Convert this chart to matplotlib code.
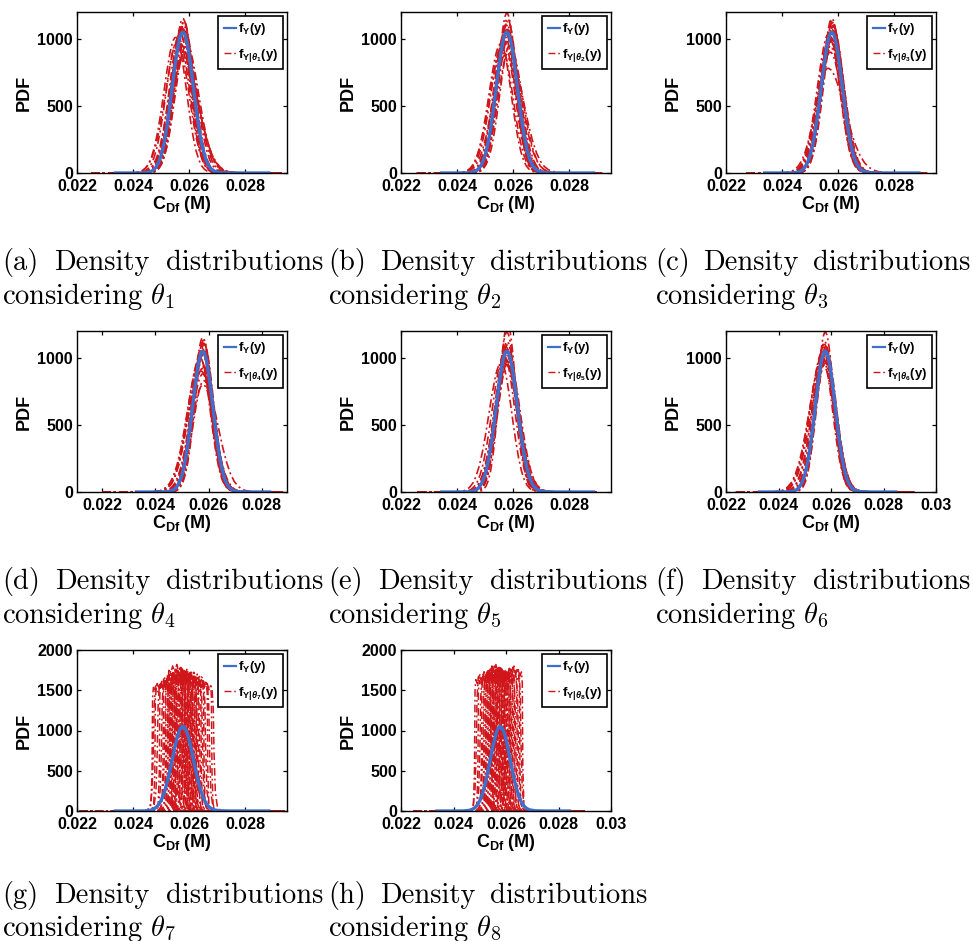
import numpy as np
import matplotlib
matplotlib.use("Agg")
import matplotlib.pyplot as plt
from matplotlib.lines import Line2D

# unconditional density f_Y(y)
fy_x = [0.0240, 0.0244, 0.0246, 0.0247, 0.0248, 0.0249, 0.0250, 0.0251, 0.0252,
        0.0253, 0.0254, 0.0255, 0.0256, 0.02565, 0.0257, 0.02575, 0.0258, 0.02585,
        0.0259, 0.02595, 0.0260, 0.0261, 0.0262, 0.0263, 0.0264, 0.0265, 0.0266,
        0.0267, 0.0268, 0.0269, 0.0271, 0.0275]
fy_pdf = [0, 1, 8, 18, 38, 72, 128, 212, 328,
          473, 637, 800, 938, 990, 1027, 1047, 1048, 1032,
          999, 950, 888, 737, 570, 412, 278, 174, 102,
          56, 29, 14, 3, 0]

# conditional densities for theta_1..theta_6: (shift, peak, left width, right width)
theta1_curves = [(0.0, 1150, 0.9, 0.9), (0.00002, 1100, 0.95, 0.95), (-0.00003, 1080, 1.0, 0.95),
                 (0.00004, 1060, 0.95, 1.0), (-0.00025, 1010, 1.1, 1.0), (-0.0002, 980, 1.05, 1.1),
                 (0.00005, 900, 1.05, 1.3), (0.0, 850, 1.1, 1.45), (0.0001, 940, 1.0, 1.15),
                 (-0.0001, 1040, 1.0, 1.0), (0.00003, 1120, 0.9, 0.95), (-0.00015, 1000, 1.2, 1.05),
                 (0.00008, 1000, 0.95, 1.25), (-0.00005, 1090, 0.95, 0.9), (0.00002, 870, 1.2, 1.4),
                 (0.00001, 1070, 1.0, 1.0), (-0.00002, 1030, 1.05, 1.0), (0.00004, 1130, 0.9, 0.9),
                 (-0.00007, 960, 1.1, 1.1), (0.00006, 1010, 1.0, 1.1)]
theta2_curves = [(0.0, 1190, 0.85, 0.85), (0.00003, 1130, 0.9, 0.95), (-0.00002, 1100, 0.95, 0.9),
                 (-0.00022, 960, 1.1, 1.0), (-0.00018, 930, 1.15, 1.05), (0.00004, 1060, 1.0, 1.0),
                 (0.00006, 900, 1.0, 1.4), (0.0, 980, 1.05, 1.3), (-0.00008, 1020, 1.0, 1.0),
                 (0.00002, 1150, 0.9, 0.9), (0.0001, 950, 0.95, 1.2), (-0.00012, 990, 1.15, 1.05),
                 (0.00001, 1070, 0.95, 1.05), (-0.00004, 880, 1.2, 1.2), (0.00002, 1040, 1.0, 1.0),
                 (-0.00001, 1110, 0.95, 0.95), (0.00005, 1000, 1.0, 1.1), (-0.00006, 1050, 1.05, 1.0)]
theta3_curves = [(0.0, 1150, 0.9, 0.9), (0.00002, 1120, 0.9, 0.95), (-0.00013, 780, 1.2, 1.6),
                 (0.00004, 1100, 0.95, 0.95), (-0.00003, 1080, 1.0, 1.0), (-0.00008, 1000, 1.1, 1.0),
                 (0.00003, 1030, 1.0, 1.1), (0.0, 960, 1.05, 1.1), (-0.00005, 900, 1.15, 1.1),
                 (0.00006, 1060, 0.95, 1.0), (-0.0001, 1040, 1.1, 1.0), (0.00001, 1130, 0.9, 0.9),
                 (0.00002, 990, 1.05, 1.05), (-0.00002, 930, 1.1, 1.15), (0.00001, 1070, 1.0, 1.0),
                 (-0.00004, 1010, 1.1, 1.05), (0.00005, 1090, 0.95, 1.0), (0.0, 1040, 1.15, 1.05)]
theta4_curves = [(0.0, 1150, 0.9, 0.9), (0.00002, 1110, 0.9, 0.95), (-0.00004, 1080, 1.0, 0.95),
                 (0.00003, 1060, 0.95, 1.0), (-0.0001, 1000, 1.2, 1.0), (-0.00006, 950, 1.25, 1.05),
                 (0.00001, 880, 1.15, 1.1), (0.00002, 800, 1.2, 1.15), (0.00004, 830, 1.05, 1.4),
                 (-0.00002, 1030, 1.1, 1.0), (0.0, 920, 1.2, 1.1), (-0.00008, 990, 1.3, 1.0),
                 (0.00005, 1100, 0.9, 0.95), (0.00001, 1020, 1.0, 1.05), (-0.00003, 970, 1.3, 1.05),
                 (0.00002, 1070, 1.05, 1.0), (-0.00005, 900, 1.35, 1.1), (0.00003, 1130, 0.9, 0.9)]
theta5_curves = [(0.00002, 1250, 0.78, 0.8), (0.0, 1190, 0.85, 0.85), (0.00003, 1100, 0.9, 0.95),
                 (-0.00003, 1080, 1.0, 0.95), (-0.0002, 960, 1.15, 1.0), (0.00004, 1040, 0.95, 1.0),
                 (-0.00005, 1000, 1.05, 1.05), (0.00002, 950, 1.0, 1.15), (-0.0001, 1020, 1.1, 1.0),
                 (0.0, 1060, 0.95, 1.0), (0.00006, 990, 1.0, 1.1), (-0.00002, 980, 1.1, 1.1),
                 (0.00001, 1120, 0.9, 0.9), (-0.00004, 1040, 1.0, 1.0), (0.00003, 1010, 1.05, 1.05),
                 (0.0, 940, 1.1, 1.1)]
theta6_curves = [(0.0, 1190, 0.85, 0.85), (-0.00002, 1120, 0.9, 0.9), (0.00002, 1080, 0.95, 0.95),
                 (-0.00008, 1050, 1.25, 1.0), (-0.0001, 1000, 1.3, 1.0), (0.00003, 1020, 1.0, 1.05),
                 (-0.00004, 980, 1.2, 1.05), (0.00001, 960, 1.05, 1.1), (-0.00003, 1100, 1.15, 0.95),
                 (0.00004, 1060, 0.95, 1.0), (0.0, 1000, 1.1, 1.1), (-0.00006, 940, 1.3, 1.1),
                 (0.00001, 1040, 1.0, 1.0), (-0.00001, 1080, 1.1, 1.0), (0.00002, 990, 1.05, 1.05),
                 (-0.00005, 1030, 1.4, 1.0)]

# plateau shape of the theta_7 / theta_8 conditional densities (units of half width, fraction of top)
plateau_u = [-1.9, -1.45, -1.2, -1.07, -1.0, -0.9, -0.7, -0.45, -0.2, 0.05,
             0.3, 0.55, 0.8, 0.95, 1.05, 1.2, 1.45, 1.9]
plateau_f = [0.0, 0.01, 0.05, 0.3, 0.88, 0.96, 0.93, 0.99, 0.95, 1.0,
             0.94, 0.98, 0.96, 0.8, 0.45, 0.15, 0.03, 0.0]
plateau_half = 0.0003

theta7_centres = [0.02500, 0.02504, 0.02510, 0.02518, 0.02526, 0.02533, 0.02539, 0.02544,
                  0.02548, 0.02552, 0.02555, 0.02558, 0.02561, 0.02564, 0.02567, 0.02570,
                  0.02573, 0.02576, 0.02579, 0.02582, 0.02585, 0.02588, 0.02591, 0.02595,
                  0.02599, 0.02603, 0.02607, 0.02612, 0.02617, 0.02622, 0.02628, 0.02635,
                  0.02642, 0.02650, 0.02658]
theta7_heights = [1600, 1610, 1590, 1620, 1650, 1700, 1680, 1720,
                  1760, 1700, 1820, 1750, 1690, 1740, 1780, 1700,
                  1760, 1720, 1690, 1750, 1730, 1700, 1760, 1710,
                  1680, 1740, 1700, 1690, 1720, 1650, 1700, 1660,
                  1640, 1620, 1600]
theta8_centres = [0.02512, 0.02518, 0.02525, 0.02532, 0.02538, 0.02543, 0.02547, 0.02551,
                  0.02554, 0.02557, 0.02560, 0.02563, 0.02566, 0.02569, 0.02572, 0.02575,
                  0.02578, 0.02581, 0.02584, 0.02587, 0.02590, 0.02594, 0.02598, 0.02602,
                  0.02606, 0.02611, 0.02616, 0.02621, 0.02626, 0.02632]
theta8_heights = [1700, 1730, 1690, 1740, 1720, 1760, 1700, 1780,
                  1740, 1800, 1820, 1760, 1720, 1790, 1750, 1700,
                  1770, 1730, 1760, 1710, 1740, 1700, 1760, 1720,
                  1690, 1740, 1710, 1760, 1790, 1800]

panel_letters = ["a", "b", "c", "d", "e", "f", "g", "h"]
x_limits = [(0.022, 0.0295), (0.022, 0.0295), (0.022, 0.0295), (0.02105, 0.02895),
            (0.022, 0.0295), (0.022, 0.030), (0.022, 0.0295), (0.022, 0.030)]
x_ticks = [[0.022, 0.024, 0.026, 0.028]] * 5 + [[0.022, 0.024, 0.026, 0.028, 0.03]] \
    + [[0.022, 0.024, 0.026, 0.028], [0.022, 0.024, 0.026, 0.028, 0.03]]
y_max = [1200] * 6 + [2000] * 2
y_ticks = [[0, 500, 1000]] * 6 + [[0, 500, 1000, 1500, 2000]] * 2
# x extent of the flat zero tails
red_span = [(0.0225, 0.0293), (0.02257, 0.02918), (0.02273, 0.02918), (0.0220, 0.0288),
            (0.0226, 0.0290), (0.02238, 0.02917), (0.0221, 0.0294), (0.02248, 0.02899)]
blue_span = [(0.02337, 0.02885), (0.02345, 0.02888), (0.02338, 0.02889), (0.02329, 0.0283),
             (0.02345, 0.02888), (0.02328, 0.02847), (0.02337, 0.02885), (0.02337, 0.02842)]

BLUE = "#3F6FCC"
RED = "#D0161B"
DASHDOT = (0, (5, 2, 1.2, 2))

plt.rcParams["font.family"] = ["Liberation Sans", "DejaVu Sans"]
plt.rcParams["font.weight"] = "bold"
plt.rcParams["mathtext.fontset"] = "custom"
plt.rcParams["mathtext.rm"] = "Liberation Sans:bold"
plt.rcParams["mathtext.bf"] = "Liberation Sans:bold"
plt.rcParams["mathtext.it"] = "Liberation Sans:italic:bold"
plt.rcParams["mathtext.default"] = "rm"

W, H = 973, 941
fig = plt.figure(figsize=(W / 100, H / 100), dpi=100)

col_left = [77, 401, 726]
row_top = [12, 331, 650]
ax_w, ax_h = 210, 161
# caption baselines below each row of axes (px); the last row sits at the page edge
cap_offsets = [(97, 131), (97, 131), (92, 125)]

fx = np.array(fy_x)
fp = np.array(fy_pdf, dtype=float)
mu = fx[np.argmax(fp)]
cond_curves = [theta1_curves, theta2_curves, theta3_curves,
               theta4_curves, theta5_curves, theta6_curves]
plateaus = [(theta7_centres, theta7_heights), (theta8_centres, theta8_heights)]

for i, letter in enumerate(panel_letters):
    r, c = divmod(i, 3)
    ax = fig.add_axes([col_left[c] / W, 1 - (row_top[r] + ax_h) / H, ax_w / W, ax_h / H])

    lo, hi = red_span[i]
    if i < 6:
        for s, pk, wl, wr in cond_curves[i]:
            dx = fx - mu
            xs = mu + np.where(dx < 0, dx * wl, dx * wr) + s
            ys = fp * pk / fp.max()
            ax.plot(np.r_[lo, xs, hi], np.r_[0, ys, 0], color=RED, lw=1.2, ls=DASHDOT)
    else:
        centres, heights = plateaus[i - 6]
        for k, (cx, h) in enumerate(zip(centres, heights)):
            u = np.array(plateau_u) * (1 if k % 2 == 0 else -1)
            order = np.argsort(u)
            xs = cx + u[order] * plateau_half
            ys = np.array(plateau_f)[order] * h
            ax.plot(np.r_[lo, xs, hi], np.r_[0, ys, 0], color=RED, lw=1.1, ls=DASHDOT)

    blo, bhi = blue_span[i]
    ax.plot(np.r_[blo, fx, bhi], np.r_[0, fp, 0], color=BLUE, lw=2.4)

    ax.set_xlim(*x_limits[i])
    ax.set_ylim(0, y_max[i])
    ax.set_xticks(x_ticks[i])
    ax.set_xticklabels([f"{v:g}" for v in x_ticks[i]])
    ax.set_yticks(y_ticks[i])
    ax.tick_params(direction="in", top=True, right=True, length=3, width=0.9,
                   labelsize=11.5)
    ax.tick_params(axis="x", pad=4.5)
    ax.tick_params(axis="y", pad=3)
    for sp in ax.spines.values():
        sp.set_linewidth(1.0)
    ax.set_ylabel("PDF", fontsize=13, fontweight="bold", labelpad=3)
    ax.set_xlabel(r"$C_{Df}$ (M)", fontsize=13, fontweight="bold", labelpad=0)

    k = i + 1
    handles = [Line2D([], [], color=BLUE, lw=1.6),
               Line2D([], [], color=RED, lw=1.0, ls=DASHDOT)]
    labels = [r"$f_Y(y)$", r"$f_{Y|\mathit{\theta}_%d}(y)$" % k]
    leg = ax.legend(handles, labels, loc="upper right", fontsize=9.5, fancybox=False,
                    framealpha=1, edgecolor="black", handlelength=0.9, handletextpad=0.15,
                    borderpad=0.4, labelspacing=0.75, borderaxespad=0.3)
    leg.get_frame().set_linewidth(1.2)

# captions, first line justified across the column
cap_left = [2, 328, 655]
cap_right = [323, 647, 970]
renderer = fig.canvas.get_renderer()
cap_kw = dict(fontsize=20.5, fontfamily="cmr10", math_fontfamily="cm",
              fontweight="normal", va="baseline")
for i, letter in enumerate(panel_letters):
    r, c = divmod(i, 3)
    bottom = row_top[r] + ax_h
    off1, off2 = cap_offsets[r]
    y1 = 1 - (bottom + off1) / H
    y2 = 1 - (bottom + off2) / H
    words = [f"({letter})", "Density", "distributions"]
    ts = [fig.text(0, y1, w, ha="left", **cap_kw) for w in words]
    widths = [t.get_window_extent(renderer).width for t in ts]
    gap = (cap_right[c] - cap_left[c] - sum(widths)) / 2
    x = cap_left[c]
    for t, w in zip(ts, widths):
        t.set_x(x / W)
        x += w + gap
    fig.text(cap_left[c] / W, y2, r"considering $\theta_%d$" % (i + 1), ha="left", **cap_kw)

fig.savefig("out.png", dpi=100)
